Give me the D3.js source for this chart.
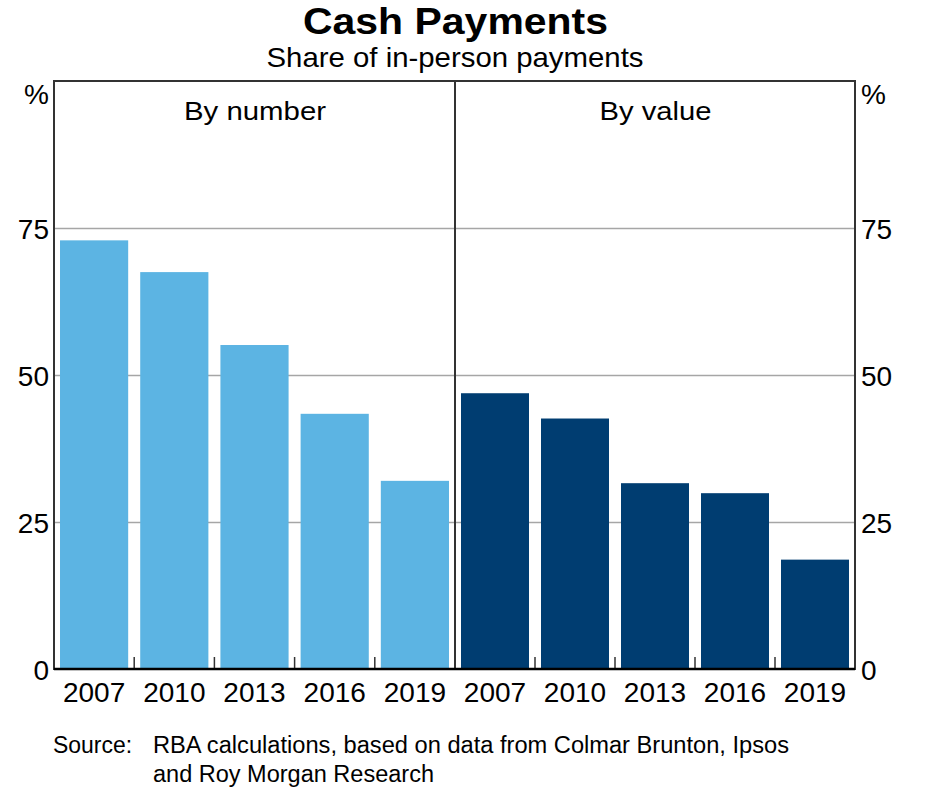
<!DOCTYPE html>
<html>
<head>
<meta charset="utf-8">
<script src="https://cdn.jsdelivr.net/npm/d3@7"></script>
<style>
  html, body { margin: 0; padding: 0; background: #fff; }
  svg { display: block; font-family: "Liberation Sans", Arial, sans-serif; }
</style>
</head>
<body>
<svg id="chart" width="943" height="797"></svg>
<script>
// ---- data ----
const years = ["2007", "2010", "2013", "2016", "2019"];
const byNumber = [72.9, 67.5, 55.1, 43.4, 32.0];
const byValue = [46.9, 42.6, 31.6, 29.9, 18.6];
const yTicks = [0, 25, 50, 75];
const panelTitles = ["By number", "By value"];
const panelColors = ["#5CB4E3", "#003D71"];
const titleText = "Cash Payments";
const subtitleText = "Share of in-person payments";
const sourceLabel = "Source:";
const sourceLines = ["RBA calculations, based on data from Colmar Brunton, Ipsos",
                     "and Roy Morgan Research"];

// ---- layout ----
const svg = d3.select("#chart");
const pLeft = 54, pRight = 855, pTop = 81, pBottom = 669, pMid = 455;
const y = d3.scaleLinear().domain([0, 100]).range([pBottom, pTop]);

// title
svg.append("text").attr("x", 455.5).attr("y", 34).attr("text-anchor", "middle")
  .attr("font-size", 37).attr("font-weight", "bold").attr("fill", "#000")
  .attr("textLength", 305).attr("lengthAdjust", "spacingAndGlyphs").text(titleText);
svg.append("text").attr("x", 455).attr("y", 67).attr("text-anchor", "middle")
  .attr("font-size", 28).attr("fill", "#000")
  .attr("textLength", 377).attr("lengthAdjust", "spacingAndGlyphs").text(subtitleText);

// gridlines
const grid = svg.append("g").attr("transform", `translate(${pLeft},0)`)
  .call(d3.axisRight(y).tickValues(yTicks.filter(t => t > 0)).tickSize(pRight - pLeft).tickFormat(""));
grid.select(".domain").remove();
grid.selectAll("line").attr("stroke", "#a6a6a6").attr("stroke-width", 1.5);

const panels = [
  { title: panelTitles[0], values: byNumber, color: panelColors[0], x0: pLeft, x1: pMid, tl: 142 },
  { title: panelTitles[1], values: byValue, color: panelColors[1], x0: pMid, x1: pRight, tl: 112 }
];

panels.forEach(p => {
  const x = d3.scaleBand().domain(years).range([p.x0, p.x1]).paddingInner(0.15).paddingOuter(0.075);
  const g = svg.append("g");
  g.selectAll("rect").data(years.map((yr, i) => ({ yr, v: p.values[i] })))
    .enter().append("rect")
    .attr("x", d => x(d.yr))
    .attr("width", x.bandwidth())
    .attr("y", d => y(d.v))
    .attr("height", d => y(0) - y(d.v))
    .attr("fill", p.color);

  // tick marks between bars
  const step = x.step();
  g.selectAll("line.tk").data(years.slice(1)).enter().append("line")
    .attr("x1", d => x(d) - step * x.paddingInner() / 2)
    .attr("x2", d => x(d) - step * x.paddingInner() / 2)
    .attr("y1", pBottom).attr("y2", pBottom - 12)
    .attr("stroke", "#333").attr("stroke-width", 1.5);

  // x labels
  const xa = svg.append("g").attr("transform", `translate(0,${pBottom})`)
    .call(d3.axisBottom(x).tickSize(0).tickPadding(0));
  xa.select(".domain").remove();
  xa.selectAll("text").attr("font-size", 28).attr("font-family", "Liberation Sans, Arial, sans-serif")
    .attr("fill", "#000").attr("dy", null).attr("y", 33);

  // panel title
  svg.append("text").attr("x", (p.x0 + p.x1) / 2 + 0.5).attr("y", 119.5).attr("text-anchor", "middle")
    .attr("font-size", 26).attr("fill", "#000")
    .attr("textLength", p.tl).attr("lengthAdjust", "spacingAndGlyphs").text(p.title);
});

// y axes
const yl = svg.append("g").attr("transform", `translate(${pLeft},0)`)
  .call(d3.axisLeft(y).tickValues(yTicks).tickSize(0).tickPadding(5));
const yr = svg.append("g").attr("transform", `translate(${pRight},0)`)
  .call(d3.axisRight(y).tickValues(yTicks).tickSize(0).tickPadding(6));
[yl, yr].forEach(a => {
  a.select(".domain").remove();
  a.selectAll("text").attr("font-size", 28).attr("font-family", "Liberation Sans, Arial, sans-serif")
    .attr("fill", "#000").attr("dy", "0.37em");
});
svg.append("text").attr("x", pLeft - 5).attr("y", 104).attr("text-anchor", "end")
  .attr("font-size", 28).attr("fill", "#000").text("%");
svg.append("text").attr("x", pRight + 6).attr("y", 104).attr("text-anchor", "start")
  .attr("font-size", 28).attr("fill", "#000").text("%");

// frame
svg.append("rect").attr("x", pLeft).attr("y", pTop).attr("width", pRight - pLeft).attr("height", pBottom - pTop)
  .attr("fill", "none").attr("stroke", "#333").attr("stroke-width", 2);
svg.append("line").attr("x1", pMid).attr("x2", pMid).attr("y1", pTop).attr("y2", pBottom)
  .attr("stroke", "#333").attr("stroke-width", 2);
svg.append("line").attr("x1", pLeft).attr("x2", pRight).attr("y1", pBottom).attr("y2", pBottom)
  .attr("stroke", "#000").attr("stroke-width", 2.5);

// source
svg.append("text").attr("x", 53).attr("y", 752.5).attr("font-size", 23).attr("fill", "#000")
  .attr("textLength", 79).attr("lengthAdjust", "spacingAndGlyphs").text(sourceLabel);
const sourceWidths = [636, 281];
sourceLines.forEach((t, i) => {
  svg.append("text").attr("x", 153).attr("y", 752.5 + i * 29).attr("font-size", 23).attr("fill", "#000")
    .attr("textLength", sourceWidths[i]).attr("lengthAdjust", "spacingAndGlyphs").text(t);
});
</script>
</body>
</html>
